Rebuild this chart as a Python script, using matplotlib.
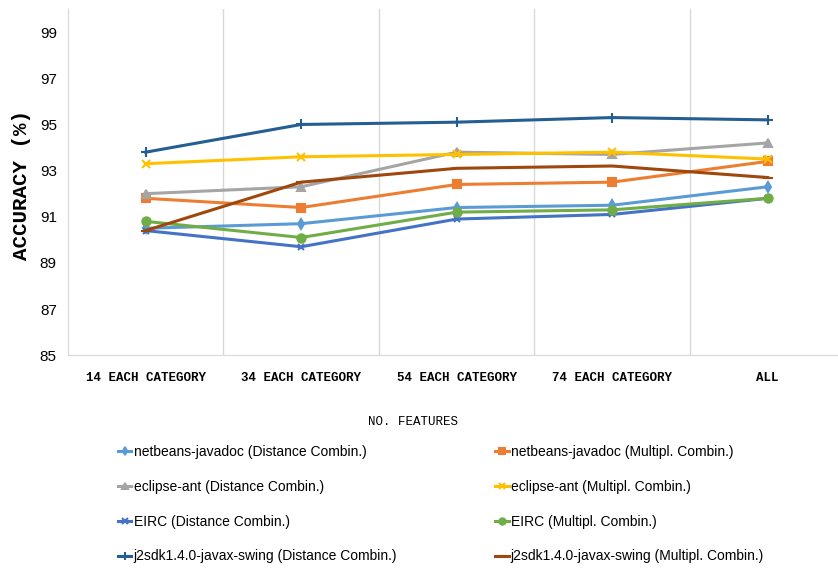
import matplotlib.pyplot as plt

# Accuracy (%) per feature count, for each dataset / combination method
categories = ["14 EACH CATEGORY", "34 EACH CATEGORY", "54 EACH CATEGORY",
              "74 EACH CATEGORY", "ALL"]

netbeans_dist = [90.5, 90.7, 91.4, 91.5, 92.3]
netbeans_mult = [91.8, 91.4, 92.4, 92.5, 93.4]
eclipse_dist = [92.0, 92.3, 93.8, 93.7, 94.2]
eclipse_mult = [93.3, 93.6, 93.7, 93.8, 93.5]
eirc_dist = [90.4, 89.7, 90.9, 91.1, 91.8]
eirc_mult = [90.8, 90.1, 91.2, 91.3, 91.8]
j2sdk_dist = [93.8, 95.0, 95.1, 95.3, 95.2]
j2sdk_mult = [90.4, 92.5, 93.1, 93.2, 92.7]

y_ticks = [85, 87, 89, 91, 93, 95, 97, 99]

series = [
    ("netbeans-javadoc (Distance Combin.)", netbeans_dist, "#5B9BD5", "d", 5),
    ("netbeans-javadoc (Multipl. Combin.)", netbeans_mult, "#ED7D31", "s", 6),
    ("eclipse-ant (Distance Combin.)", eclipse_dist, "#A5A5A5", "^", 6),
    ("eclipse-ant (Multipl. Combin.)", eclipse_mult, "#FFC000", "x", 6),
    ("EIRC (Distance Combin.)", eirc_dist, "#4472C4", "x", 5),
    ("EIRC (Multipl. Combin.)", eirc_mult, "#70AD47", "o", 6),
    ("j2sdk1.4.0-javax-swing (Distance Combin.)", j2sdk_dist, "#255E91", "+", 7),
    ("j2sdk1.4.0-javax-swing (Multipl. Combin.)", j2sdk_mult, "#9E480E", "_", 7),
]

fig = plt.figure(figsize=(8.38, 5.71), dpi=100)
ax = fig.add_axes([0.0811, 0.378, 0.9189, 0.606])

x = list(range(len(categories)))
handles = {}
for label, vals, color, marker, ms in series:
    (h,) = ax.plot(x, vals, color=color, lw=2.2, marker=marker, ms=ms,
                   mew=1.5, label=label)
    handles[label] = h

ax.set_xlim(-0.5, 4.452)
ax.set_ylim(85, 100)
ax.set_yticks(y_ticks)
ax.set_xticks(x)
ax.set_xticklabels(categories, family="Liberation Mono", fontweight="bold",
                   fontsize=9)
for t in ax.get_yticklabels():
    t.set_family("Liberation Sans")
    t.set_fontsize(11)
ax.tick_params(length=0, pad=8)
ax.tick_params(axis="x", pad=12)

# vertical separators between categories
for b in [0.5, 1.5, 2.5, 3.5]:
    ax.axvline(b, color="#D9D9D9", lw=1, zorder=0)
for side in ["top", "right"]:
    ax.spines[side].set_visible(False)
for side in ["left", "bottom"]:
    ax.spines[side].set_color("#D9D9D9")

fig.text(0.026, 0.676, "ACCURACY (%)", rotation=90, ha="center", va="center",
         family="Liberation Mono", fontweight="bold", fontsize=15)
fig.text(0.493, 0.261, "NO. FEATURES", ha="center", va="center",
         family="Liberation Mono", fontsize=9)

# legend: Distance entries in left column, Multipl. in right column
leg_kw = dict(frameon=False, loc="upper left",
              prop={"family": "Liberation Sans", "size": 10},
              handlelength=1.0, handletextpad=0.15, labelspacing=1.5,
              borderpad=0, markerscale=0.75)
left_labels = [s[0] for s in series[0::2]]
right_labels = [s[0] for s in series[1::2]]
fig.legend([handles[k] for k in left_labels], left_labels,
           bbox_to_anchor=(0.132, 0.233), **leg_kw)
fig.legend([handles[k] for k in right_labels], right_labels,
           bbox_to_anchor=(0.582, 0.233), **leg_kw)

fig.savefig("out.png", dpi=100)
